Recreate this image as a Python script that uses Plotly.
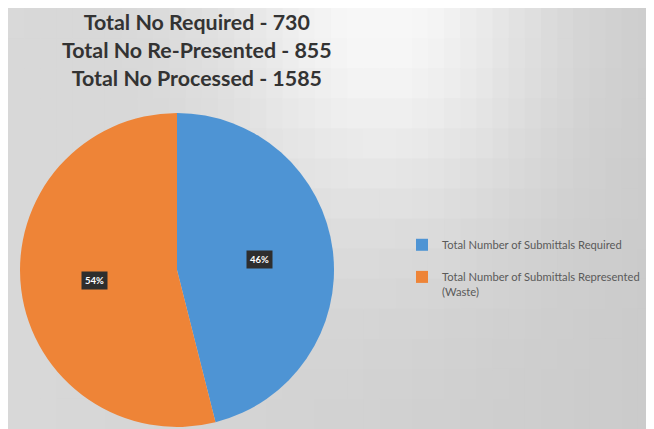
import math
import plotly.graph_objects as go

labels = ["Total Number of Submittals Required<br> ", "Total Number of Submittals Represented<br>(Waste)"]
values = [730, 855]
colors = ["#4e94d4", "#ee8437"]
title_lines = ["Total No Required - 730", "Total No Re-Presented - 855", "Total No Processed - 1585"]

# page body has an 8px margin, so the figure is drawn 8px in from top-left
W, H = 646, 421
cx, cy, r = 169, 262, 157

fig = go.Figure()
fig.add_trace(go.Pie(
    labels=labels, values=values, sort=False, direction="clockwise", rotation=0,
    marker=dict(colors=colors, line=dict(width=0)),
    textinfo="none", hoverinfo="percent",
    domain=dict(x=[(cx - r) / W, (cx + r) / W], y=[(H - cy - r) / H, (H - cy + r) / H]),
))

# soft grey background gradient built from tiles
shapes = []
nx, ny = 40, 14
for i in range(nx):
    for j in range(ny):
        x0, x1 = i * W / nx, (i + 1) * W / nx
        y0, y1 = j * H / ny, (j + 1) * H / ny
        xm, ym = (x0 + x1) / 2, (y0 + y1) / 2
        v = 203 + 14 * (1 - xm / W) + 40 * math.exp(-((xm - 380) / 160) ** 2 - (ym / 210) ** 2)
        v = int(min(247, v))
        shapes.append(dict(type="rect", xref="paper", yref="paper",
                           x0=x0 / W, x1=x1 / W + 0.002, y0=1 - y1 / H - 0.003, y1=1 - y0 / H,
                           fillcolor=f"rgb({v},{v},{v})", line=dict(width=0), layer="below"))
shapes.append(dict(type="rect", xref="paper", yref="paper", x0=640 / W, x1=1, y0=0, y1=1,
                   fillcolor="white", line=dict(width=0), layer="below"))

# percentage labels computed from values
annotations = []
total = sum(values)
cum = 0
for v in values:
    mid = (cum + v / 2) / total * 2 * math.pi
    cum += v
    px = cx + 0.53 * r * math.sin(mid)
    py = cy - 0.53 * r * math.cos(mid)
    annotations.append(dict(x=px / W, y=1 - py / H, xref="paper", yref="paper",
                            xanchor="center", yanchor="middle",
                            text=f"<b>{round(v / total * 100)}%</b>", showarrow=False,
                            font=dict(family="Lato, Arial", size=9.5, color="white"),
                            bgcolor="#2e2e2e", borderpad=3))

annotations.append(dict(x=189 / W, y=1 + 1 / H, xref="paper", yref="paper",
                        xanchor="center", yanchor="top",
                        text="<br>".join(f"<b>{t}</b>" for t in title_lines), showarrow=False,
                        align="center",
                        font=dict(family="Lato, Arial", size=21.4, color="#333333")))

fig.update_layout(
    width=W, height=H, margin=dict(l=0, r=0, t=0, b=0),
    paper_bgcolor="#d8d8d8", plot_bgcolor="#d8d8d8",
    shapes=shapes, annotations=annotations,
    showlegend=True,
    legend=dict(x=394 / W, y=1 - 223 / H, xanchor="left", yanchor="top", valign="top",
                bgcolor="rgba(0,0,0,0)", font=dict(family="Lato, Arial", size=11.2, color="#5a5a5a"),
                itemwidth=30),
)
fig.write_html("out.html")
